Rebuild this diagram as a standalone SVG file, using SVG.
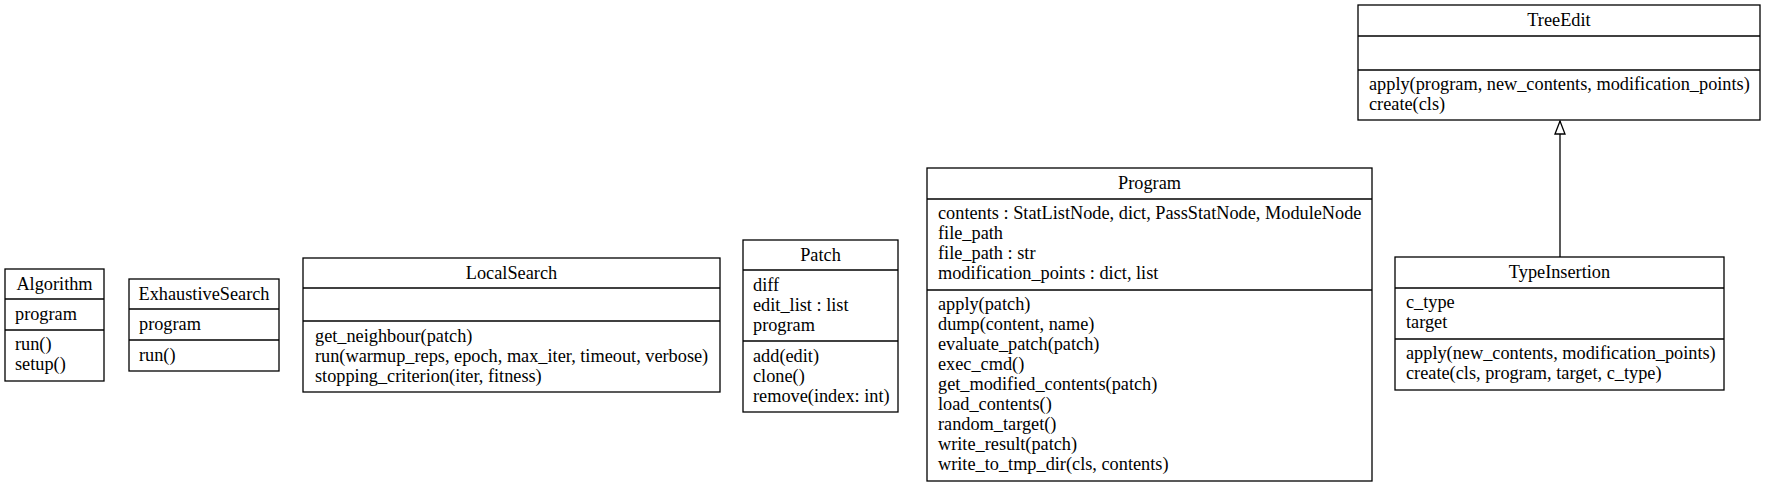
<svg xmlns="http://www.w3.org/2000/svg" width="1766" height="487" viewBox="0 0 1766 487">
<style>
rect.b{fill:#fff;stroke:#000;stroke-width:1.3}
line.s{stroke:#000;stroke-width:1.3}
text{font-family:"Liberation Serif","Times New Roman",serif;font-size:18.3px;fill:#000}
text.t{text-anchor:middle}
.edge{stroke:#000;stroke-width:1.3;fill:none}
</style>
<defs>
<marker id="inh" markerWidth="16" markerHeight="12" refX="14" refY="6" orient="auto" markerUnits="userSpaceOnUse">
<path d="M1,1 L14,6 L1,11 Z" fill="#fff" stroke="#000" stroke-width="1.3"/>
</marker>
</defs>
<rect width="1766" height="487" fill="#fff"/>
<g id="edges">
<line class="edge" x1="1560" y1="257" x2="1560" y2="121" marker-end="url(#inh)"/>
</g>
<g id="Algorithm">
<rect class="b" x="5" y="269" width="99" height="112"/>
<line class="s" x1="5" y1="299" x2="104" y2="299"/>
<line class="s" x1="5" y1="330" x2="104" y2="330"/>
<text class="t" x="54.5" y="290">Algorithm</text>
<text x="15" y="320">program</text>
<text x="15" y="350">run()</text>
<text x="15" y="370">setup()</text>
</g>
<g id="ExhaustiveSearch">
<rect class="b" x="129" y="279" width="150" height="92"/>
<line class="s" x1="129" y1="309" x2="279" y2="309"/>
<line class="s" x1="129" y1="340" x2="279" y2="340"/>
<text class="t" x="204" y="300">ExhaustiveSearch</text>
<text x="139" y="330">program</text>
<text x="139" y="361">run()</text>
</g>
<g id="LocalSearch">
<rect class="b" x="303" y="258" width="417" height="134"/>
<line class="s" x1="303" y1="288" x2="720" y2="288"/>
<line class="s" x1="303" y1="321" x2="720" y2="321"/>
<text class="t" x="511.5" y="279">LocalSearch</text>
<text x="315" y="342">get_neighbour(patch)</text>
<text x="315" y="362">run(warmup_reps, epoch, max_iter, timeout, verbose)</text>
<text x="315" y="382">stopping_criterion(iter, fitness)</text>
</g>
<g id="Patch">
<rect class="b" x="743" y="240" width="155" height="172"/>
<line class="s" x1="743" y1="270" x2="898" y2="270"/>
<line class="s" x1="743" y1="341" x2="898" y2="341"/>
<text class="t" x="820.5" y="261">Patch</text>
<text x="753" y="291">diff</text>
<text x="753" y="311">edit_list : list</text>
<text x="753" y="331">program</text>
<text x="753" y="362">add(edit)</text>
<text x="753" y="382">clone()</text>
<text x="753" y="402">remove(index: int)</text>
</g>
<g id="Program">
<rect class="b" x="927" y="168" width="445" height="313"/>
<line class="s" x1="927" y1="199" x2="1372" y2="199"/>
<line class="s" x1="927" y1="290" x2="1372" y2="290"/>
<text class="t" x="1149.5" y="189">Program</text>
<text x="938" y="219">contents : StatListNode, dict, PassStatNode, ModuleNode</text>
<text x="938" y="239">file_path</text>
<text x="938" y="259">file_path : str</text>
<text x="938" y="279">modification_points : dict, list</text>
<text x="938" y="310">apply(patch)</text>
<text x="938" y="330">dump(content, name)</text>
<text x="938" y="350">evaluate_patch(patch)</text>
<text x="938" y="370">exec_cmd()</text>
<text x="938" y="390">get_modified_contents(patch)</text>
<text x="938" y="410">load_contents()</text>
<text x="938" y="430">random_target()</text>
<text x="938" y="450">write_result(patch)</text>
<text x="938" y="470">write_to_tmp_dir(cls, contents)</text>
</g>
<g id="TreeEdit">
<rect class="b" x="1358" y="5" width="402" height="115"/>
<line class="s" x1="1358" y1="36" x2="1760" y2="36"/>
<line class="s" x1="1358" y1="70" x2="1760" y2="70"/>
<text class="t" x="1559" y="26">TreeEdit</text>
<text x="1369" y="90">apply(program, new_contents, modification_points)</text>
<text x="1369" y="110">create(cls)</text>
</g>
<g id="TypeInsertion">
<rect class="b" x="1395" y="257" width="329" height="133"/>
<line class="s" x1="1395" y1="288" x2="1724" y2="288"/>
<line class="s" x1="1395" y1="339" x2="1724" y2="339"/>
<text class="t" x="1559.5" y="278">TypeInsertion</text>
<text x="1406" y="308">c_type</text>
<text x="1406" y="328">target</text>
<text x="1406" y="359">apply(new_contents, modification_points)</text>
<text x="1406" y="379">create(cls, program, target, c_type)</text>
</g>
</svg>
